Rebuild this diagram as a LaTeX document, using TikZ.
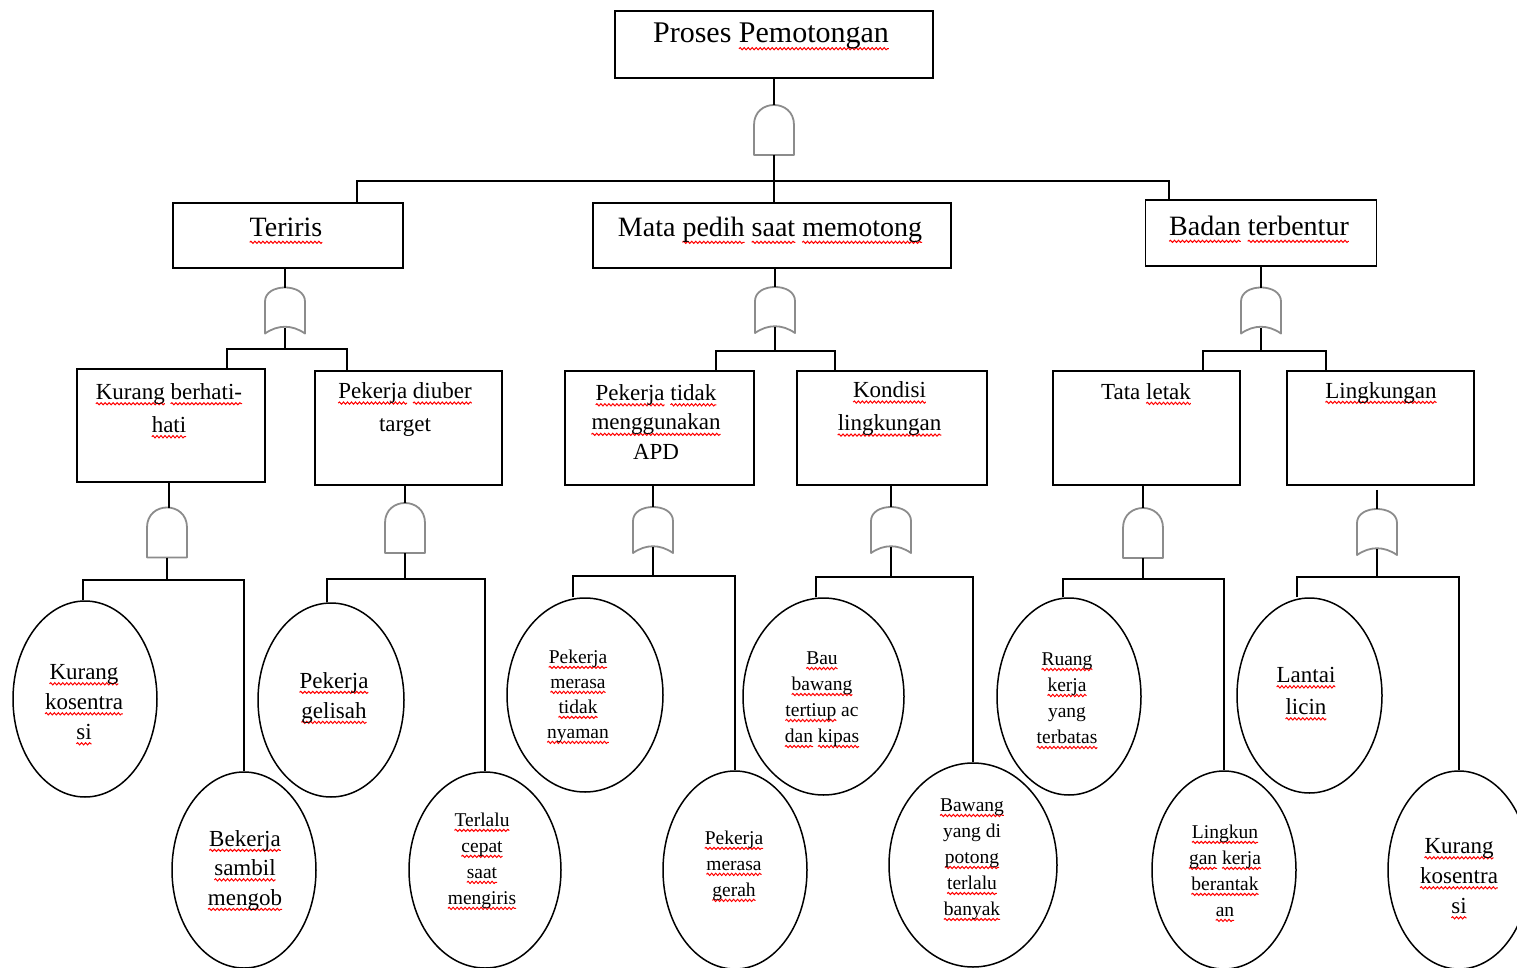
\documentclass[tikz,border=0pt]{standalone}
\usepackage{fontspec}
\setmainfont{Liberation Serif}
\usetikzlibrary{shapes.geometric,calc,decorations.pathmorphing}

% red wavy spell-check mark under a word
\newsavebox\spellbox
\newcommand\spellmark[1]{%
  \sbox\spellbox{#1}\edef\spellw{\the\wd\spellbox}%
  \rlap{\tikz[overlay,baseline=0pt]\draw[red,line width=1pt,decorate,
      decoration={snake,amplitude=1.1pt,segment length=4pt}]
      (0pt,-0.19em) -- (\spellw,-0.19em);}%
  \usebox\spellbox}

\tikzset{
  box/.style={draw, line width=1.8pt, rectangle, inner sep=0pt},
  oval/.style={draw, line width=1.5pt, ellipse, inner sep=0pt},
  lbl/.style={inner sep=0pt, align=center},
  wire/.style={line width=1.6pt},
  gatepen/.style={draw=black!45, line width=1.8pt, fill=white, line join=round},
  ftop/.style={font=\fontsize{30}{34}\selectfont},
  fmid/.style={font=\fontsize{28}{33}\selectfont},
  fbox/.style={font=\fontsize{23}{33}\selectfont},
  fbig/.style={font=\fontsize{23}{30}\selectfont},
  fsmall/.style={font=\fontsize{19.5}{26}\selectfont},
  andgate/.pic={
    \path[gatepen] (-20,25) -- (-20,-5) .. controls (-20,-31.7) and (20,-31.7) .. (20,-5) -- (20,25) -- cycle;
    \coordinate (-top) at (0,-25);
    \coordinate (-bot) at (0,25);
  },
  orgate/.pic={
    \path[gatepen] (-20,23) -- (-20,-9) .. controls (-20,-27.7) and (20,-27.7) .. (20,-9) -- (20,23) .. controls (7,14) and (-7,14) .. cycle;
    \coordinate (-top) at (0,-23);
    \coordinate (-bot) at (0,17);
  },
}

\begin{document}
\begin{tikzpicture}[x=1pt,y=-1pt]
\useasboundingbox (0,0) rectangle (1517,968);
\clip (0,0) rectangle (1517,968);

% ---------- top event ----------
\node[box, minimum width=318pt, minimum height=67pt] (P) at (774,44.5) {};
\node[lbl, anchor=base, ftop] (Pt) at (771,43) {Proses \spellmark{Pemotongan}};

% ---------- second level ----------
\node[box, minimum width=230pt, minimum height=65pt] (T) at (288,235.5) {};
\node[lbl, anchor=base, fmid] (Tt) at (286,237) {\spellmark{Teriris}};
\node[box, minimum width=358pt, minimum height=65pt] (M) at (772,235.5) {};
\node[lbl, anchor=base, fmid] (Mt) at (770,237) {Mata \spellmark{pedih} \spellmark{saat} \spellmark{memotong}};
\node[box, minimum width=231pt, minimum height=66pt] (B) at (1261,233) {};
\node[lbl, anchor=base, fmid] (Bt) at (1259,236) {\spellmark{Badan} \spellmark{terbentur}};

% ---------- third level ----------
\node[box, minimum width=188pt, minimum height=113pt] (K) at (171,425.5) {};
\node[lbl, fbox] (Kt) at (169,408) {\spellmark{Kurang} \spellmark{berhati-}\\\spellmark{hati}};
\node[box, minimum width=187pt, minimum height=114pt] (D) at (408.5,428) {};
\node[lbl, fbox] (Dt) at (405,409.7) {\spellmark{Pekerja} \spellmark{diuber}\\target};
\node[box, minimum width=189pt, minimum height=114pt] (A) at (659.5,428) {};
\node[lbl, font=\fontsize{23}{29.5}\selectfont] (At) at (656,422) {\spellmark{Pekerja} \spellmark{tidak}\\\spellmark{menggunakan}\\APD};
\node[box, minimum width=190pt, minimum height=114pt] (C) at (892,428) {};
\node[lbl, fbox] (Ct) at (889.5,408.7) {\spellmark{Kondisi}\\\spellmark{lingkungan}};
\node[box, minimum width=187pt, minimum height=114pt] (TL) at (1146.5,428) {};
\node[lbl, anchor=base, fbox] (TLt) at (1146,399) {Tata \spellmark{letak}};
\node[box, minimum width=187pt, minimum height=114pt] (L) at (1380.5,428) {};
\node[lbl, anchor=base, fbox] (Lt) at (1381,398) {\spellmark{Lingkungan}};

% ---------- basic events, upper row ----------
\node[oval, minimum width=144pt, minimum height=196pt] (E1) at (85,699) {};
\node[lbl, fbig] (E1t) at (84,702) {\spellmark{Kurang}\\\spellmark{kosentra}\\\spellmark{si}};
\node[oval, minimum width=146pt, minimum height=194pt] (E2) at (331,700) {};
\node[lbl, fbig] (E2t) at (334,697.5) {\spellmark{Pekerja}\\\spellmark{gelisah}};
\node[oval, minimum width=156pt, minimum height=194pt] (E3) at (585,695) {};
\node[lbl, font=\fontsize{19.5}{25}\selectfont] (E3t) at (578,696.5) {\spellmark{Pekerja}\\\spellmark{merasa}\\\spellmark{tidak}\\\spellmark{nyaman}};
\node[oval, minimum width=161pt, minimum height=197pt] (E4) at (823.5,696.5) {};
\node[lbl, fsmall] (E4t) at (822,699.5) {\spellmark{Bau}\\\spellmark{bawang}\\\spellmark{tertiup} ac\\\spellmark{dan} \spellmark{kipas}};
\node[oval, minimum width=144pt, minimum height=197pt] (E5) at (1069,696.5) {};
\node[lbl, fsmall] (E5t) at (1067,698.5) {\spellmark{Ruang}\\\spellmark{kerja}\\yang\\\spellmark{terbatas}};
\node[oval, minimum width=145pt, minimum height=195pt] (E6) at (1309.5,695.5) {};
\node[lbl, font=\fontsize{23}{32}\selectfont] (E6t) at (1306,691) {\spellmark{Lantai}\\\spellmark{licin}};

% ---------- basic events, lower row ----------
\node[oval, minimum width=144pt, minimum height=196pt] (E7) at (244,870) {};
\node[lbl, font=\fontsize{23}{29.5}\selectfont] (E7t) at (245,870) {\spellmark{Bekerja}\\\spellmark{sambil}\\\spellmark{mengob}};
\node[oval, minimum width=152pt, minimum height=196pt] (E8) at (485,870) {};
\node[lbl, fsmall] (E8t) at (482,861) {\spellmark{Terlalu}\\\spellmark{cepat}\\\spellmark{saat}\\\spellmark{mengiris}};
\node[oval, minimum width=144pt, minimum height=198pt] (E9) at (735,870) {};
\node[lbl, fsmall] (E9t) at (734,866) {\spellmark{Pekerja}\\\spellmark{merasa}\\\spellmark{gerah}};
\node[oval, minimum width=168pt, minimum height=204pt] (E10) at (973,865) {};
\node[lbl, fsmall] (E10t) at (972,859.5) {\spellmark{Bawang}\\yang di\\\spellmark{potong}\\\spellmark{terlalu}\\\spellmark{banyak}};
\node[oval, minimum width=144pt, minimum height=198pt] (E11) at (1224,870) {};
\node[lbl, fsmall] (E11t) at (1225,871) {\spellmark{Lingkun}\\\spellmark{gan} \spellmark{kerja}\\\spellmark{berantak}\\\spellmark{an}};
\node[oval, minimum width=142pt, minimum height=198pt] (E12) at (1459,870) {};
\node[lbl, fbig] (E12t) at (1459,876) {\spellmark{Kurang}\\\spellmark{kosentra}\\\spellmark{si}};

% ---------- gates ----------
\pic (g0) at (774,130) {andgate};
\pic (gT) at (285,310.5) {orgate};
\pic (gM) at (775,310) {orgate};
\pic (gB) at (1261,310.5) {orgate};
\pic (gK) at (167,532.5) {andgate};
\pic (gD) at (405,528) {andgate};
\pic (gA) at (653,530) {orgate};
\pic (gC) at (891,530) {orgate};
\pic (gTL) at (1143,533) {andgate};
\pic (gL) at (1377,532) {orgate};

% ---------- junctions of the branch lines ----------
\coordinate (j0) at (774,181);
\coordinate (jT) at (285,349);
\coordinate (jM) at (775,351);
\coordinate (jB) at (1261,351);
\coordinate (jK) at (167,580);
\coordinate (jD) at (405,579);
\coordinate (jA) at (653,576);
\coordinate (jC) at (891,577);
\coordinate (jTL) at (1143,579);
\coordinate (jL) at (1377,577);

% ---------- connectors ----------
\draw[wire] (P.south) -- (g0-top);
\draw[wire] (g0-bot) -- (j0);
\draw[wire] ([xshift=69pt]T.north) |- (j0) -| ([xshift=-92pt]B.north);
\draw[wire] (j0) -- (j0 |- M.north);

\draw[wire] (gT-top |- T.south) -- (gT-top);
\draw[wire] (gM-top |- M.south) -- (gM-top);
\draw[wire] (gB-top |- B.south) -- (gB-top);
\draw[wire] (gT-bot) -- (jT);
\draw[wire] (gM-bot) -- (jM);
\draw[wire] (gB-bot) -- (jB);
\draw[wire] ([xshift=56pt]K.north) |- (jT) -| ([xshift=-61.5pt]D.north);
\draw[wire] ([xshift=56.5pt]A.north) |- (jM) -| ([xshift=-57pt]C.north);
\draw[wire] ([xshift=56.5pt]TL.north) |- (jB) -| ([xshift=-54.5pt]L.north);

\draw[wire] ([xshift=-2pt]K.south) -- ([xshift=-2pt]K.south |- gK-top);
\draw[wire] (gD-top |- D.south) -- (gD-top);
\draw[wire] (gA-top |- A.south) -- (gA-top);
\draw[wire] (gC-top |- C.south) -- (gC-top);
\draw[wire] (gTL-top |- TL.south) -- (gTL-top);
\draw[wire] ($(gL-top |- L.south)+(0,4)$) -- (gL-top);

\draw[wire] (gK-bot) -- (jK);
\draw[wire] (gD-bot) -- (jD);
\draw[wire] (gA-bot) -- (jA);
\draw[wire] (gC-bot) -- (jC);
\draw[wire] (gTL-bot) -- (jTL);
\draw[wire] (gL-bot) -- (jL);

\draw[wire] ([xshift=-2pt]E1.north) |- (jK) -| (E7.north);
\draw[wire] ([xshift=-4pt]E2.north) |- (jD) -| (E8.north);
\draw[wire] ([xshift=-12pt]E3.north) |- (jA) -| (E9.north);
\draw[wire] ([xshift=-7.5pt]E4.north) |- (jC) -| (E10.north);
\draw[wire] ([xshift=-6pt]E5.north) |- (jTL) -| (E11.north);
\draw[wire] ([xshift=-12.5pt]E6.north) |- (jL) -| (E12.north);
\end{tikzpicture}
\end{document}
